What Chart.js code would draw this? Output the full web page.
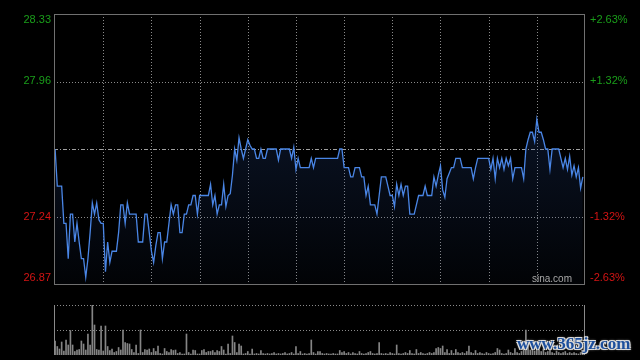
<!DOCTYPE html>
<html>
<head>
<meta charset="utf-8">
<script src="https://cdn.jsdelivr.net/npm/chart.js@4.4.0/dist/chart.umd.min.js"></script>
<style>
html,body{margin:0;padding:0;background:#000;width:640px;height:360px;overflow:hidden}
canvas{position:absolute;left:0}
#price{top:0}
#vol{top:290px}
#wm{position:absolute;left:517px;top:334px;font:bold 17px "Liberation Serif",serif;color:#1d4f9c;
  text-shadow:1px 1px 0 #ddd,-1px -1px 0 #ddd,1px -1px 0 #ddd,-1px 1px 0 #ddd,0 0 3px #fff;white-space:nowrap}
</style>
</head>
<body>
<canvas id="price" width="640" height="290"></canvas>
<canvas id="vol" width="640" height="70"></canvas>
<div id="wm">www.365jz.com</div>
<script>
// previous close and the +-2.63% band
var prevClose = 27.60;
var priceMin = 26.874, priceMax = 28.326;

var leftLabels = ['28.33', '27.96', '27.24', '26.87'];
var rightLabels = ['+2.63%', '+1.32%', '-1.32%', '-2.63%'];
var labelValues = [28.326, 27.964, 27.236, 26.874];

// one price per minute, 9:30 .. 15:00
var prices = [
  27.60,27.40,27.40,27.40,27.20,27.20,27.01,27.25,27.25,27.10,
  27.20,27.10,27.01,27.01,26.91,27.01,27.15,27.31,27.25,27.31,
  27.22,27.20,27.20,26.94,27.10,26.99,27.05,27.05,27.05,27.15,
  27.30,27.30,27.20,27.31,27.25,27.25,27.25,27.25,27.10,27.10,
  27.10,27.25,27.25,27.15,27.05,26.99,27.08,27.15,27.15,27.01,
  27.10,27.10,27.20,27.30,27.25,27.30,27.30,27.15,27.15,27.25,
  27.25,27.30,27.30,27.35,27.35,27.25,27.35,27.35,27.35,27.35,
  27.35,27.41,27.30,27.35,27.25,27.30,27.30,27.41,27.29,27.35,
  27.36,27.46,27.60,27.54,27.66,27.60,27.55,27.60,27.65,27.62,
  27.60,27.60,27.55,27.55,27.60,27.55,27.55,27.60,27.60,27.60,
  27.60,27.60,27.54,27.60,27.60,27.60,27.60,27.60,27.55,27.61,
  27.49,27.55,27.50,27.50,27.50,27.50,27.50,27.55,27.50,27.55,
  27.55,27.55,27.55,27.55,27.55,27.55,27.55,27.55,27.55,27.55,
  27.60,27.60,27.50,27.50,27.50,27.45,27.45,27.50,27.50,27.50,
  27.45,27.45,27.35,27.40,27.30,27.30,27.30,27.25,27.35,27.45,
  27.45,27.45,27.40,27.35,27.35,27.29,27.41,27.35,27.41,27.35,
  27.40,27.40,27.25,27.25,27.25,27.30,27.35,27.35,27.35,27.40,
  27.35,27.35,27.35,27.45,27.40,27.46,27.51,27.38,27.34,27.44,
  27.47,27.50,27.50,27.55,27.55,27.55,27.50,27.50,27.50,27.50,
  27.50,27.44,27.50,27.55,27.55,27.55,27.55,27.55,27.55,27.49,
  27.55,27.44,27.55,27.50,27.55,27.49,27.55,27.51,27.55,27.44,
  27.50,27.50,27.50,27.50,27.44,27.60,27.65,27.69,27.69,27.64,
  27.76,27.69,27.69,27.65,27.60,27.60,27.49,27.60,27.60,27.60,
  27.60,27.55,27.50,27.55,27.49,27.56,27.46,27.51,27.45,27.50,
  27.39,27.45
];

// volume per minute (relative, max = top of pane)
var volumes = [
  28,17,12,26,8,30,20,49,20,7,
  10,11,28,22,10,42,20,100,60,11,
  10,58,8,58,17,9,12,5,7,15,
  10,50,25,23,22,11,5,20,3,50,
  5,11,10,12,5,13,7,18,3,2,
  13,7,5,11,9,10,3,5,2,2,
  42,5,2,10,9,2,2,9,11,5,
  7,7,9,5,9,7,17,10,2,22,
  3,38,25,5,22,18,2,3,7,2,
  12,2,3,2,9,3,2,3,2,3,
  5,2,3,2,3,5,2,3,5,2,
  17,3,7,2,3,2,3,30,5,2,
  7,7,3,2,3,2,2,3,2,2,
  9,5,7,3,5,2,5,3,2,7,
  3,2,3,5,7,3,2,3,25,3,
  2,3,2,5,3,2,20,3,2,3,
  5,3,9,3,2,11,3,5,3,2,
  3,5,3,5,13,15,13,18,5,11,
  3,9,3,11,5,3,5,3,7,18,
  5,3,9,3,5,3,2,5,3,2,
  3,5,13,10,3,2,3,10,5,3,
  13,5,3,7,25,50,30,10,20,8,
  15,10,7,12,5,7,12,5,3,8,
  5,3,5,7,3,5,3,5,3,2,
  5,9
];

var GREEN = '#1a9e1a', RED = '#d41414';
var FONT = '11px "Liberation Sans", Arial, sans-serif';

var pricePanel = {
  id: 'pricePanel',
  beforeDatasetsDraw: function(chart){
    var c = chart.ctx, a = chart.chartArea, y = chart.scales.y;
    c.save();
    c.lineWidth = 1;
    c.strokeStyle = '#8a8a8a';
    c.setLineDash([1, 2]);
    for(var k=1;k<11;k++){
      var x = Math.round(a.left + 1 + k*(a.right - a.left - 1)/11) + 0.5;
      c.beginPath(); c.moveTo(x, a.top); c.lineTo(x, a.bottom); c.stroke();
    }
    [labelValues[1], labelValues[2]].forEach(function(v){
      var py = Math.round(y.getPixelForValue(v) + 0.4) + 0.5;
      c.beginPath(); c.moveTo(a.left, py); c.lineTo(a.right, py); c.stroke();
    });
    c.strokeStyle = '#a0a0a0';
    c.setLineDash([4, 2, 1, 2]);
    var py0 = Math.round(y.getPixelForValue(prevClose) + 0.4) + 0.5;
    c.beginPath(); c.moveTo(a.left, py0); c.lineTo(a.right, py0); c.stroke();
    c.restore();
  },
  afterDraw: function(chart){
    var c = chart.ctx, a = chart.chartArea, y = chart.scales.y;
    c.save();
    c.strokeStyle = '#707070';
    c.lineWidth = 1;
    c.setLineDash([]);
    c.strokeRect(a.left + 0.5, a.top + 0.5, a.right - a.left - 1, a.bottom - a.top);
    c.font = FONT;
    c.textBaseline = 'middle';
    labelValues.forEach(function(v, i){
      var py = y.getPixelForValue(v);
      py = Math.min(Math.max(py, a.top + 6), a.bottom - 6);
      c.fillStyle = v > prevClose ? GREEN : RED;
      c.textAlign = 'right';
      c.fillText(leftLabels[i], 51, py);
      c.textAlign = 'left';
      c.fillText(rightLabels[i], 590, py);
    });
    c.fillStyle = '#a8a8a8';
    c.font = '10px "Liberation Sans", Arial, sans-serif';
    c.textAlign = 'left';
    c.fillText('sina.com', 532, a.bottom - 5);
    c.restore();
  }
};

new Chart(document.getElementById('price'), {
  type: 'line',
  data: {
    datasets: [{
      data: prices.map(function(p, i){ return {x: i, y: p}; }),
      borderColor: '#4a86e6',
      borderWidth: 1.3,
      pointRadius: 0,
      tension: 0,
      fill: 'start',
      backgroundColor: function(ctx){
        var a = ctx.chart.chartArea;
        if(!a) return 'rgba(0,0,0,0)';
        var g = ctx.chart.ctx.createLinearGradient(0, a.top, 0, a.bottom);
        g.addColorStop(0, 'rgba(40,75,145,0.38)');
        g.addColorStop(1, 'rgba(40,75,145,0.04)');
        return g;
      }
    }]
  },
  options: {
    responsive: false,
    animation: false,
    events: [],
    layout: {padding: {left: 54, right: 55, top: 14, bottom: 6}},
    plugins: {legend: {display: false}, tooltip: {enabled: false}},
    scales: {
      x: {type: 'linear', min: -0.5, max: 242, display: false},
      y: {min: priceMin, max: priceMax, display: false}
    }
  },
  plugins: [pricePanel]
});

var volPanel = {
  id: 'volPanel',
  beforeDatasetsDraw: function(chart){
    var c = chart.ctx, a = chart.chartArea, y = chart.scales.y;
    c.save();
    c.lineWidth = 1;
    c.strokeStyle = '#8a8a8a';
    c.setLineDash([1, 2]);
    [100, 50].forEach(function(v){
      var py = Math.round(y.getPixelForValue(v)) + 0.5;
      c.beginPath(); c.moveTo(a.left, py); c.lineTo(a.right, py); c.stroke();
    });
    c.restore();
  },
  afterDraw: function(chart){
    var c = chart.ctx, a = chart.chartArea;
    c.save();
    c.strokeStyle = '#8a8a8a';
    c.lineWidth = 1;
    c.beginPath();
    c.moveTo(a.left + 0.5, a.top); c.lineTo(a.left + 0.5, a.bottom);
    c.moveTo(a.right - 0.5, a.top); c.lineTo(a.right - 0.5, a.bottom);
    c.stroke();
    c.restore();
  }
};

new Chart(document.getElementById('vol'), {
  type: 'bar',
  data: {
    datasets: [{
      data: volumes.map(function(v, i){ return {x: i, y: v}; }),
      backgroundColor: '#858585',
      barThickness: 1
    }]
  },
  options: {
    responsive: false,
    animation: false,
    events: [],
    layout: {padding: {left: 54, right: 55, top: 15, bottom: 5}},
    plugins: {legend: {display: false}, tooltip: {enabled: false}},
    scales: {
      x: {type: 'linear', min: -0.5, max: 242, offset: false, display: false},
      y: {min: 0, max: 100, display: false}
    }
  },
  plugins: [volPanel]
});
</script>
</body>
</html>
